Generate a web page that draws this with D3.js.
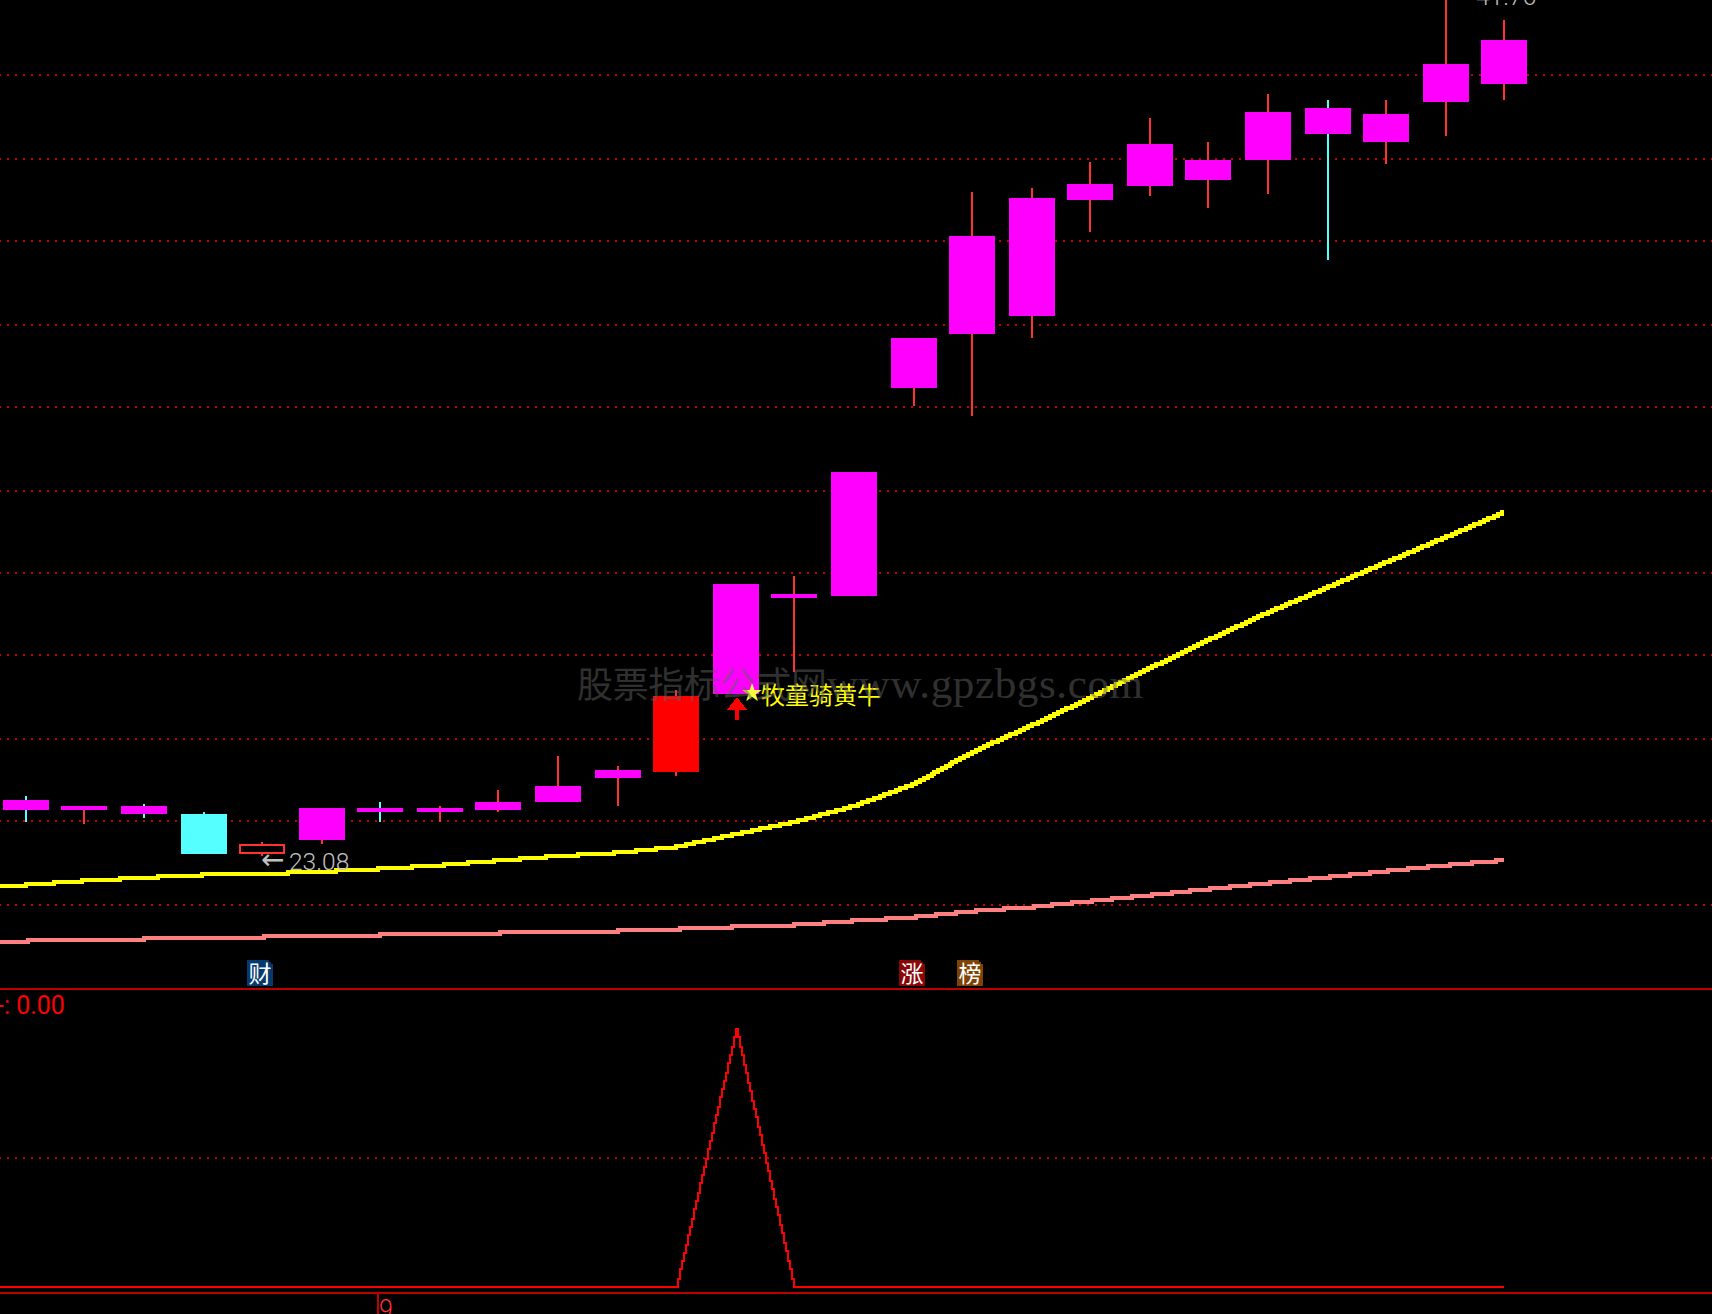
<!DOCTYPE html>
<html><head><meta charset="utf-8">
<style>html,body{margin:0;padding:0;background:#000;overflow:hidden}svg{display:block}</style>
<script src="https://cdn.jsdelivr.net/npm/d3@7/dist/d3.min.js"></script>
</head><body><script>
const opens  = [24.30,24.08,24.17,23.99,23.12,23.43,24.12,24.04,24.08,24.25,24.78,24.91,26.60,28.69,28.73,33.25,34.43,34.82,37.34,37.65,37.78,38.21,39.34,38.60,39.47,39.86];
const closes = [24.08,24.17,23.99,23.12,23.34,24.12,24.04,24.12,24.25,24.60,24.95,26.56,28.99,28.78,31.43,34.34,36.56,37.38,37.69,38.56,38.21,39.25,38.78,39.21,40.30,40.82];
const highs  = [24.38,24.17,24.21,24.04,23.38,24.12,24.25,24.17,24.52,25.25,25.04,26.69,28.99,29.17,31.43,34.34,37.52,37.60,38.17,39.12,38.60,39.65,39.52,39.52,41.76,41.26];
const lows   = [23.82,23.78,23.91,23.12,23.08,23.34,23.82,23.82,24.04,24.25,24.17,24.82,26.60,27.08,28.73,32.86,32.65,34.34,36.65,37.43,37.17,37.47,36.04,38.12,38.73,39.52];
const bodyKinds = ["m","m","m","down","hollow","m","m","m","m","m","m","red","m","m","m","m","m","m","m","m","m","m","m","m","m","m"];
const maFast = [22.38,22.45,22.54,22.61,22.67,22.69,22.74,22.80,22.88,22.98,23.08,23.15,23.28,23.56,23.82,24.17,24.65,25.34,25.93,26.52,27.17,27.78,28.38,28.93,29.47,30.02,30.56];
const maSlow = [21.211,21.232,21.254,21.276,21.297,21.319,21.341,21.363,21.384,21.406,21.428,21.45,21.49,21.54,21.58,21.67,21.75,21.88,21.97,22.10,22.23,22.36,22.49,22.62,22.75,22.88,22.99];
const signal = [0,0,0,0,0,0,0,0,0,0,0,0,0,1,0,0,0,0,0,0,0,0,0,0,0,0,0];
const priceGrid = [22.01,23.84,25.62,27.45,29.23,31.01,32.84,34.62,36.45,38.23,40.06];
const signalGrid = [0.5];
const badges = [{i:4,t:"财",c:"#053a6e"},{i:15,t:"涨",c:"#8a0505"},{i:16,t:"榜",c:"#7f4205"}];
const lowLabel = "23.08", highLabel = "41.76", signalLabel = "-: 0.00", signalName = "牧童骑黄牛", timeLabels = ["9"];
const watermarkCn = "股票指标公式网", watermarkEn = "www.gpzbgs.com";
const W = 1712, H = 1314;
const C = {up:"#ff3232",down:"#55ffff",mag:"#ff00ff",red:"#ff0000",fast:"#ffff00",slow:"#ff8080",grid:"#c00000",grey:"#c0c0c0"};

const x = d3.scaleLinear().domain([0,25]).range([26.66,1505.66]);
const y = d3.scaleLinear().domain([23.08,41.76]).range([856,-3.28]);
const yS = d3.scaleLinear().domain([0,1]).range([1287,1029]);
const even = v => Math.round(v/2)*2;
const X = i => Math.floor(x(i)/2)*2;
const Y = p => even(y(p));

// rasterising curve: draws a line on a 2px grid, as the terminal does
const pixelCurve = (phase) => (ctx) => {
  let x0,y0,ly,n;
  const snap = v => Math.round((v-phase)/2)*2+phase;
  return {
    lineStart(){n=0}, lineEnd(){}, areaStart(){}, areaEnd(){},
    point(a,b){
      if(n++===0){ ly=snap(b); ctx.moveTo(a,ly); }
      else {
        for(let t=x0+2;t<=a;t+=2){
          const s=snap(y0+(t-x0)/(a-x0)*(b-y0));
          ctx.lineTo(t,ly); ctx.lineTo(t,s); ly=s;
        }
      }
      x0=a;y0=b;
    }
  };
};

const svg = d3.select("body").append("svg").attr("width",W).attr("height",H).attr("viewBox",`0 0 ${W} ${H}`).style("background","#000");
const crisp = svg.append("g").attr("shape-rendering","crispEdges");

// gridlines
crisp.append("g").selectAll("line").data(priceGrid).join("line")
  .attr("x1",0).attr("x2",W).attr("y1",d=>Math.round(y(d))).attr("y2",d=>Math.round(y(d)))
  .attr("stroke",C.grid).attr("stroke-width",2).attr("stroke-dasharray","2 6").attr("stroke-dashoffset",1);
crisp.append("g").selectAll("line").data(signalGrid).join("line")
  .attr("x1",0).attr("x2",W).attr("y1",d=>Math.round(yS(d))).attr("y2",d=>Math.round(yS(d)))
  .attr("stroke",C.grid).attr("stroke-width",2).attr("stroke-dasharray","2 6").attr("stroke-dashoffset",1);

// panel frame lines
crisp.append("rect").attr("x",0).attr("y",988).attr("width",W).attr("height",2).attr("fill",C.grid);
crisp.append("rect").attr("x",0).attr("y",1292).attr("width",W).attr("height",2).attr("fill",C.grid);

// candles
const idx = d3.range(opens.length);
crisp.append("g").selectAll("rect").data(idx).join("rect")
  .attr("x",i=>X(i)-1).attr("width",2).attr("y",i=>Y(highs[i])).attr("height",i=>Y(lows[i])-Y(highs[i]))
  .attr("fill",i=>closes[i]<opens[i]?C.down:C.up);
crisp.append("g").selectAll("rect").data(idx).join("rect")
  .each(function(i){
    const top=Y(Math.max(opens[i],closes[i])), bot=Y(Math.min(opens[i],closes[i])), k=bodyKinds[i], s=d3.select(this);
    if(k==="hollow"){
      s.attr("x",X(i)-22).attr("width",44).attr("y",top+1).attr("height",bot-top-2)
       .attr("fill","#000").attr("stroke",C.up).attr("stroke-width",2);
    } else {
      s.attr("x",X(i)-23).attr("width",46).attr("y",top).attr("height",bot-top)
       .attr("fill",k==="down"?C.down:k==="red"?C.red:C.mag);
    }
  });

// moving averages
const lineGen = phase => d3.line().x((d,i)=>X(i-1)).curve(pixelCurve(phase));
crisp.append("path").attr("fill","none").attr("stroke",C.slow).attr("stroke-width",4)
  .attr("d",lineGen(0).y(d=>y(d))(maSlow));
crisp.append("path").attr("fill","none").attr("stroke",C.fast).attr("stroke-width",4)
  .attr("d",lineGen(0).y(d=>y(d))(maFast));

// signal panel line
crisp.append("path").attr("fill","none").attr("stroke",C.red).attr("stroke-width",2)
  .attr("d",lineGen(1).y(d=>yS(d))(signal));

// buy arrow below the signal candle
const sig = signal.indexOf(1)-1;
const ax = X(sig)+1, ay = Y(lows[sig])+3;
crisp.append("path").attr("fill",C.red)
  .attr("d",`M${ax},${ay}L${ax+10},${ay+13}L${ax+2},${ay+13}L${ax+2},${ay+23}L${ax-2},${ay+23}L${ax-2},${ay+13}L${ax-10},${ay+13}Z`);

// badges
const badge = svg.append("g").selectAll("g").data(badges).join("g")
  .attr("transform",d=>`translate(${X(d.i)-15},960)`);
badge.append("path").attr("shape-rendering","crispEdges").attr("fill",d=>d.c).attr("d","M0,0H22V2H24V4H26V26H0Z");
badge.append("text").attr("x",13).attr("y",22).attr("text-anchor","middle")
  .attr("font-family","'Noto Sans CJK SC'").attr("font-size",23).attr("fill","#fff").text(d=>d.t);

const numFont = "Roboto, 'Liberation Sans', sans-serif";
// price labels
const sL = highs.indexOf(d3.max(highs)), lL = lows.indexOf(d3.min(lows));
svg.append("text").attr("x",X(lL)+27).attr("y",Y(lows[lL])+14).attr("font-family",numFont).attr("font-weight",300).attr("font-size",24.5).attr("fill",C.grey).text(lowLabel);
svg.append("text").attr("x",X(lL)-1).attr("y",Y(lows[lL])+13).attr("font-family","'DejaVu Sans'").attr("font-size",28).attr("fill",C.grey).text("←");
svg.append("text").attr("x",X(sL)+30).attr("y",4.5).attr("font-family",numFont).attr("font-weight",300).attr("font-size",24.5).attr("fill",C.grey).text(highLabel);

// signal name beside the arrow
svg.append("text").attr("x",742).attr("y",700).attr("font-family","'Noto Sans CJK SC'").attr("font-size",20).attr("fill","#ffff40").text("★");
svg.append("text").attr("x",761).attr("y",704).attr("font-family","'Noto Sans CJK SC'").attr("font-size",24).attr("fill",C.fast).text(signalName);

// indicator readout
svg.append("text").attr("x",-3).attr("y",1014).attr("font-family",numFont).attr("font-weight",400).attr("font-size",25).attr("fill",C.red).text(signalLabel);

// time axis
const axis = d3.axisBottom(x).tickValues([6]).tickSize(21).tickPadding(0).tickFormat((d,i)=>timeLabels[i]);
const ag = svg.append("g").attr("transform",`translate(${X(6)-x(6)-2.5},1293)`).call(axis);
ag.select(".domain").remove();
ag.selectAll("line").attr("stroke",C.grid).attr("stroke-width",2).attr("shape-rendering","crispEdges");
ag.selectAll("text").attr("x",1).attr("y",25).attr("dy",0).attr("text-anchor","start")
  .attr("font-family",numFont).attr("font-weight",300).attr("font-size",25).attr("fill",C.up);

// watermark
const wm = svg.append("g").attr("opacity",0.5).attr("fill","#606060");
wm.append("text").attr("x",577).attr("y",698).attr("font-family","'Noto Sans CJK SC'").attr("font-size",36).attr("textLength",250).attr("lengthAdjust","spacing").text(watermarkCn);
wm.append("text").attr("x",827).attr("y",698).attr("font-family","'Liberation Serif'").attr("font-size",43).attr("textLength",316).attr("lengthAdjust","spacing").text(watermarkEn);
</script></body></html>
